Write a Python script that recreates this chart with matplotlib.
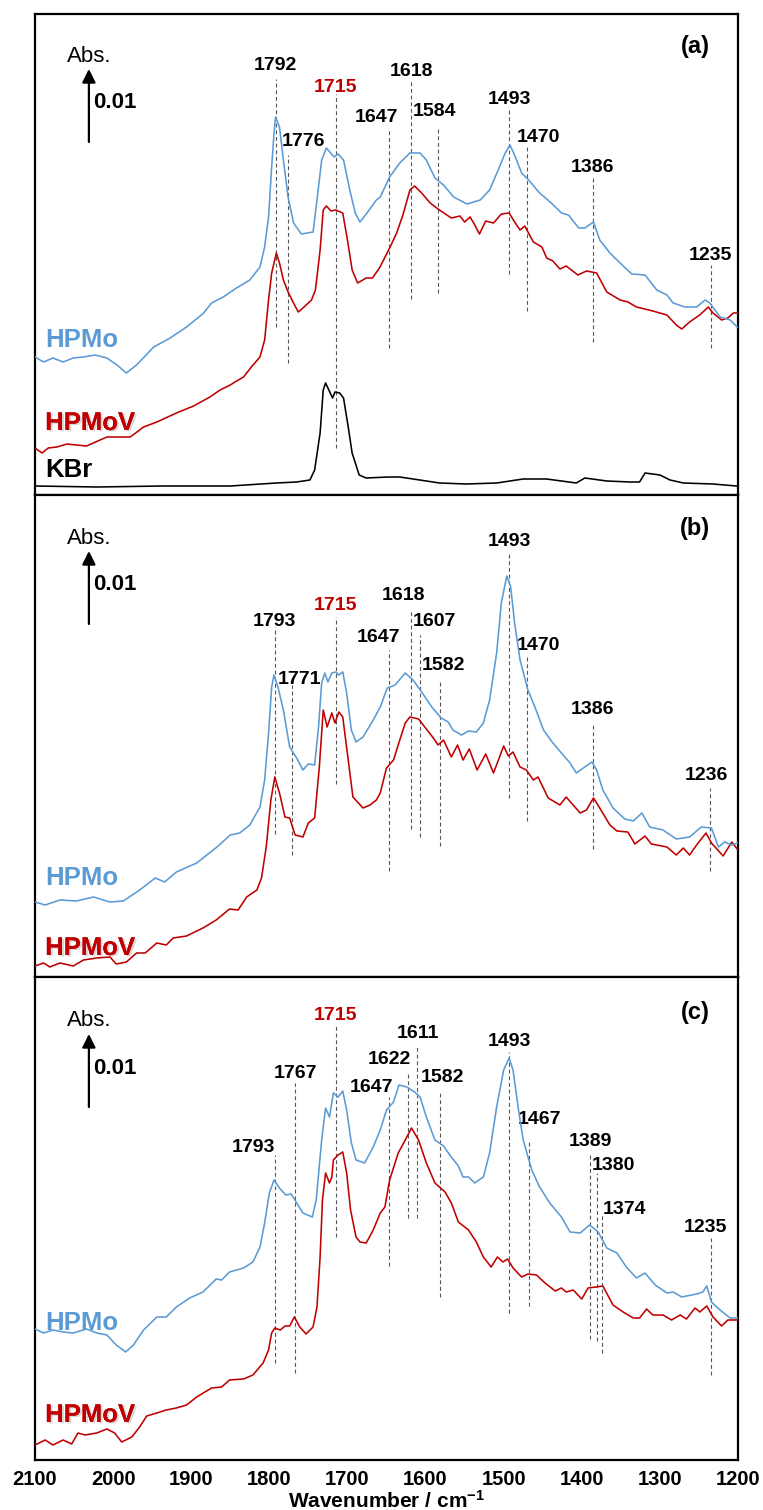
import matplotlib
matplotlib.use('Agg')
import matplotlib.pyplot as plt
import matplotlib.patheffects as pe

plt.rcParams['font.family'] = ['Liberation Sans', 'DejaVu Sans']
plt.rcParams['mathtext.default'] = 'regular'

BLUE = '#5B9BD5'
RED = '#C00000'

# spectra: (wavenumber, absorbance), a.u. (73 units = 0.01 Abs)
a_hpmo = [(2100, 138), (2089, 133), (2077, 137), (2064, 133), (2051, 137), (2038, 138), (2023, 140),
          (2008, 137), (1995, 130), (1983, 122), (1970, 130), (1948, 148), (1927, 157), (1906, 168),
          (1884, 182), (1874, 192), (1859, 198), (1842, 207), (1825, 215), (1812, 228), (1806, 248),
          (1801, 278), (1797, 328), (1794, 362), (1792, 378), (1787, 368), (1782, 335), (1776, 298),
          (1769, 272), (1759, 261), (1744, 263), (1739, 295), (1733, 335), (1727, 347), (1717, 338),
          (1712, 341), (1705, 335), (1697, 305), (1690, 282), (1684, 273), (1675, 282), (1663, 295),
          (1658, 298), (1646, 318), (1633, 332), (1620, 342), (1607, 342), (1599, 335), (1588, 317),
          (1577, 310), (1564, 298), (1547, 291), (1530, 295), (1518, 305), (1507, 325), (1498, 342),
          (1492, 350), (1486, 340), (1477, 322), (1468, 315), (1454, 302), (1439, 292), (1426, 282),
          (1417, 280), (1404, 267), (1396, 267), (1385, 273), (1377, 255), (1364, 242), (1351, 232),
          (1336, 221), (1319, 220), (1304, 205), (1291, 200), (1283, 192), (1268, 188), (1253, 188),
          (1242, 195), (1236, 192), (1223, 178), (1210, 175), (1201, 168)]
a_hpmov = [(2100, 47), (2091, 42), (2083, 47), (2072, 48), (2059, 51), (2047, 50), (2034, 49), (2008, 58),
           (1978, 58), (1961, 68), (1944, 73), (1919, 82), (1897, 89), (1876, 98), (1863, 105), (1850, 110),
           (1844, 113), (1833, 118), (1823, 128), (1812, 138), (1806, 155), (1801, 195), (1797, 222),
           (1791, 242), (1787, 232), (1782, 215), (1776, 203), (1769, 192), (1763, 183), (1757, 187),
           (1746, 195), (1741, 205), (1735, 245), (1731, 285), (1727, 289), (1721, 284), (1715, 285),
           (1706, 282), (1700, 255), (1694, 225), (1687, 212), (1676, 217), (1668, 217), (1659, 227),
           (1646, 247), (1637, 262), (1629, 280), (1620, 305), (1614, 309), (1605, 302), (1594, 292),
           (1584, 286), (1567, 277), (1556, 279), (1550, 273), (1543, 278), (1537, 270), (1531, 261),
           (1523, 274), (1513, 272), (1503, 281), (1493, 282), (1486, 273), (1479, 265), (1473, 269),
           (1462, 253), (1451, 248), (1445, 237), (1437, 234), (1428, 226), (1420, 229), (1405, 220),
           (1394, 224), (1381, 222), (1368, 203), (1351, 195), (1341, 193), (1330, 188), (1309, 184),
           (1291, 180), (1279, 170), (1272, 166), (1262, 173), (1249, 180), (1238, 188), (1232, 182),
           (1221, 175), (1213, 177), (1206, 182), (1200, 182)]
a_kbr = [(2100, 9), (2021, 8), (1936, 9), (1850, 9), (1791, 12), (1765, 13), (1748, 15), (1742, 25),
         (1735, 62), (1731, 105), (1728, 112), (1722, 102), (1719, 97), (1716, 103), (1710, 102),
         (1705, 97), (1699, 68), (1694, 42), (1685, 20), (1676, 17), (1647, 18), (1633, 18), (1616, 16),
         (1582, 12), (1548, 11), (1509, 12), (1475, 16), (1445, 16), (1407, 12), (1396, 17), (1368, 14),
         (1338, 13), (1326, 13), (1319, 22), (1300, 20), (1287, 15), (1270, 12), (1232, 11), (1202, 9)]

b_hpmo = [(2100, 75), (2087, 72), (2068, 77), (2047, 76), (2025, 80), (2004, 75), (1987, 76), (1966, 87),
          (1946, 99), (1934, 95), (1919, 105), (1893, 114), (1867, 130), (1850, 142), (1838, 144),
          (1825, 152), (1812, 170), (1806, 197), (1801, 244), (1797, 290), (1794, 302), (1789, 290),
          (1782, 267), (1774, 230), (1765, 219), (1757, 207), (1750, 213), (1742, 212), (1737, 250),
          (1733, 294), (1729, 304), (1725, 295), (1720, 304), (1715, 305), (1711, 302), (1706, 305),
          (1701, 284), (1695, 247), (1689, 235), (1680, 240), (1667, 257), (1658, 270), (1649, 289),
          (1639, 292), (1626, 304), (1616, 297), (1605, 285), (1592, 270), (1580, 259), (1571, 255),
          (1565, 247), (1554, 242), (1545, 246), (1535, 245), (1526, 254), (1518, 277), (1509, 324),
          (1503, 374), (1496, 401), (1491, 390), (1486, 354), (1479, 317), (1469, 287), (1460, 270),
          (1449, 247), (1437, 234), (1426, 224), (1415, 214), (1407, 204), (1398, 209), (1387, 215),
          (1381, 207), (1373, 187), (1360, 169), (1345, 158), (1334, 156), (1323, 164), (1313, 150),
          (1296, 147), (1279, 138), (1262, 140), (1247, 150), (1234, 149), (1225, 130), (1217, 135),
          (1208, 132), (1201, 134)]
b_hpmov = [(2100, 11), (2089, 14), (2081, 10), (2068, 14), (2051, 11), (2038, 17), (2021, 19), (2004, 20),
           (1996, 13), (1983, 15), (1970, 24), (1959, 24), (1944, 34), (1932, 32), (1923, 39), (1906, 41),
           (1885, 49), (1868, 57), (1851, 68), (1840, 67), (1829, 80), (1816, 87), (1810, 99), (1804, 130),
           (1798, 177), (1793, 200), (1787, 184), (1780, 160), (1774, 159), (1767, 142), (1757, 140),
           (1750, 154), (1742, 159), (1736, 210), (1731, 267), (1726, 250), (1720, 264), (1716, 254),
           (1711, 265), (1706, 260), (1699, 217), (1693, 180), (1680, 169), (1671, 172), (1663, 177),
           (1658, 184), (1650, 209), (1641, 217), (1633, 237), (1626, 254), (1620, 260), (1609, 258),
           (1601, 250), (1590, 239), (1584, 232), (1577, 237), (1567, 220), (1559, 232), (1552, 217),
           (1544, 228), (1534, 207), (1523, 223), (1513, 204), (1500, 231), (1494, 221), (1488, 225),
           (1479, 210), (1471, 207), (1462, 197), (1456, 200), (1443, 179), (1428, 172), (1420, 180),
           (1402, 164), (1394, 167), (1385, 179), (1377, 169), (1364, 152), (1355, 146), (1341, 145),
           (1332, 133), (1319, 141), (1311, 133), (1291, 130), (1279, 122), (1270, 129), (1262, 122),
           (1253, 132), (1241, 144), (1234, 134), (1219, 121), (1208, 135), (1201, 128)]

c_hpmo = [(2100, 131), (2089, 127), (2077, 130), (2064, 128), (2051, 127), (2034, 131), (2021, 127),
          (2008, 125), (1996, 115), (1984, 108), (1974, 115), (1961, 130), (1944, 143), (1932, 143),
          (1919, 153), (1902, 162), (1885, 168), (1868, 181), (1861, 180), (1851, 188), (1833, 192),
          (1821, 198), (1812, 213), (1806, 237), (1800, 267), (1794, 280), (1787, 272), (1779, 265),
          (1772, 266), (1765, 257), (1757, 247), (1745, 243), (1740, 260), (1733, 320), (1728, 352),
          (1723, 343), (1718, 367), (1712, 363), (1706, 369), (1701, 350), (1695, 317), (1689, 300),
          (1678, 297), (1667, 313), (1658, 330), (1650, 350), (1641, 358), (1634, 375), (1624, 373),
          (1614, 368), (1607, 363), (1599, 343), (1588, 320), (1577, 314), (1569, 305), (1558, 294),
          (1552, 283), (1545, 283), (1537, 277), (1526, 283), (1518, 307), (1509, 353), (1500, 390),
          (1493, 402), (1488, 390), (1481, 350), (1475, 320), (1464, 290), (1454, 273), (1441, 257),
          (1426, 243), (1415, 228), (1402, 227), (1390, 235), (1379, 228), (1368, 212), (1355, 207),
          (1343, 193), (1330, 182), (1319, 187), (1306, 175), (1291, 167), (1283, 168), (1272, 163),
          (1253, 166), (1245, 168), (1240, 174), (1234, 158), (1223, 150), (1210, 142), (1201, 142)]
c_hpmov = [(2100, 15), (2087, 20), (2077, 15), (2064, 20), (2053, 16), (2045, 27), (2036, 25), (2021, 27),
           (2008, 31), (1998, 27), (1989, 18), (1976, 23), (1966, 33), (1957, 44), (1944, 47), (1932, 50),
           (1919, 52), (1906, 55), (1893, 63), (1874, 72), (1861, 73), (1851, 80), (1833, 81), (1821, 85),
           (1808, 97), (1801, 110), (1797, 127), (1793, 132), (1786, 130), (1780, 134), (1774, 134),
           (1768, 143), (1761, 133), (1753, 126), (1744, 133), (1739, 153), (1735, 203), (1732, 260),
           (1728, 287), (1723, 277), (1720, 283), (1718, 300), (1712, 305), (1706, 308), (1701, 287),
           (1696, 250), (1689, 223), (1684, 218), (1676, 217), (1667, 230), (1658, 247), (1652, 253),
           (1646, 280), (1635, 307), (1626, 320), (1618, 332), (1609, 320), (1599, 297), (1588, 277),
           (1575, 268), (1567, 257), (1558, 238), (1545, 230), (1535, 218), (1526, 203), (1516, 193),
           (1508, 203), (1501, 198), (1495, 201), (1488, 192), (1477, 183), (1469, 186), (1458, 185),
           (1447, 177), (1434, 169), (1426, 172), (1420, 168), (1411, 170), (1400, 161), (1392, 172),
           (1382, 173), (1373, 174), (1360, 155), (1347, 148), (1334, 142), (1326, 142), (1317, 151),
           (1309, 145), (1296, 145), (1285, 140), (1274, 145), (1266, 141), (1255, 152), (1249, 148),
           (1240, 154), (1232, 143), (1221, 134), (1213, 140), (1201, 140)]

# assigned bands per panel
a_peaks = [1792, 1776, 1715, 1647, 1618, 1584, 1493, 1470, 1386, 1235]
b_peaks = [1793, 1771, 1715, 1647, 1618, 1607, 1582, 1493, 1470, 1386, 1236]
c_peaks = [1793, 1767, 1715, 1647, 1622, 1611, 1582, 1493, 1467, 1389, 1380, 1374, 1235]

# label layout: band -> (label x shift, label height, dash top, dash bottom)
a_layout = {1792: (0, 429, 416, 168), 1776: (-20, 353, 340, 132), 1715: (0, 407, 401, 47),
            1647: (16, 377, 367, 147), 1618: (0, 424, 415, 196), 1584: (4, 383, 367, 202),
            1493: (0, 396, 387, 221), 1470: (-14, 358, 350, 184), 1386: (0, 328, 319, 153),
            1235: (0, 240, 230, 147)}
b_layout = {1793: (0, 356, 350, 143), 1771: (-10, 298, 292, 122), 1715: (0, 371, 360, 193),
            1647: (13, 340, 327, 106), 1618: (10, 381, 368, 148), 1607: (-19, 356, 342, 140),
            1582: (-5, 312, 297, 131), 1493: (0, 436, 425, 179), 1470: (-14, 331, 322, 156),
            1386: (0, 267, 252, 128), 1236: (4, 201, 189, 106)}
c_layout = {1793: (27, 313, 305, 97), 1767: (0, 386, 377, 87), 1715: (0, 445, 435, 223),
            1647: (22, 373, 363, 194), 1622: (24, 400, 387, 242), 1611: (-1, 427, 415, 242),
            1582: (-4, 383, 368, 163), 1493: (0, 418, 408, 147), 1467: (-13, 340, 320, 154),
            1389: (0, 318, 307, 121), 1380: (-20, 295, 287, 119), 1374: (-29, 251, 247, 107),
            1235: (7, 233, 222, 85)}

W, H = 763, 1510
x0, x1 = 35, 738
rows = [(14, 495), (495, 977), (977, 1460)]

panels = [
    dict(tag='(a)', curves=[(a_kbr, 'black'), (a_hpmov, RED), (a_hpmo, BLUE)],
         peaks=a_peaks, layout=a_layout,
         names=[('HPMo', BLUE, 155), ('HPMoV', RED, 72), ('KBr', 'black', 25)]),
    dict(tag='(b)', curves=[(b_hpmov, RED), (b_hpmo, BLUE)],
         peaks=b_peaks, layout=b_layout,
         names=[('HPMo', BLUE, 99), ('HPMoV', RED, 29)]),
    dict(tag='(c)', curves=[(c_hpmov, RED), (c_hpmo, BLUE)],
         peaks=c_peaks, layout=c_layout,
         names=[('HPMo', BLUE, 137), ('HPMoV', RED, 45)]),
]

fig = plt.figure(figsize=(W / 100, H / 100), dpi=100)

for i, (p, (top, bot)) in enumerate(zip(panels, rows)):
    ax = fig.add_axes([x0 / W, 1 - bot / H, (x1 - x0) / W, (bot - top) / H])
    ax.set_xlim(2100, 1200)
    ax.set_ylim(0, bot - top)

    for pk in p['peaks']:
        dx, lh, lt, lb = p['layout'][pk]
        ax.plot([pk, pk], [lb, lt], color='#555555', lw=0.8, ls=(0, (3.5, 2.5)), zorder=1)
        ax.text(pk + dx, lh, str(pk), ha='center', va='center', fontsize=14,
                fontweight='bold', color=RED if pk == 1715 else 'black')

    for data, col in p['curves']:
        wn = [d[0] for d in data]
        ab = [d[1] for d in data]
        ax.plot(wn, ab, color=col, lw=1.15, zorder=3)

    for name, col, y in p['names']:
        t = ax.text(2087, y, name, ha='left', va='center', fontsize=18.5,
                    fontweight='bold', color=col)
        if name == 'HPMoV':
            t.set_path_effects([pe.withSimplePatchShadow(offset=(1.5, -1), shadow_rgbFace='#909090',
                                                         alpha=0.35), pe.Normal()])

    # 0.01 Abs scale arrow
    ax.annotate('', xy=(2031, 426), xytext=(2031, 353),
                arrowprops=dict(arrowstyle='-|>', color='black', lw=1.6, mutation_scale=20,
                                shrinkA=0, shrinkB=0))
    ax.text(2031, 439, 'Abs.', ha='center', va='center', fontsize=16)
    ax.text(2026, 392, '0.01', ha='left', va='center', fontsize=16, fontweight='bold')
    ax.text(1255, 448, p['tag'], ha='center', va='center', fontsize=17, fontweight='bold')

    ax.set_yticks([])
    for s in ax.spines.values():
        s.set_linewidth(1.6)
    ax.set_xticks(range(2100, 1199, -100))
    if i < 2:
        ax.tick_params(axis='x', length=0, labelbottom=False)
    else:
        ax.tick_params(axis='x', length=0, pad=7, labelsize=14.5)
        for lab in ax.get_xticklabels():
            lab.set_fontweight('bold')
        ax.set_xlabel('Wavenumber / cm$^{-1}$', fontsize=15, fontweight='bold', labelpad=1)

fig.savefig('out.png', dpi=100)
